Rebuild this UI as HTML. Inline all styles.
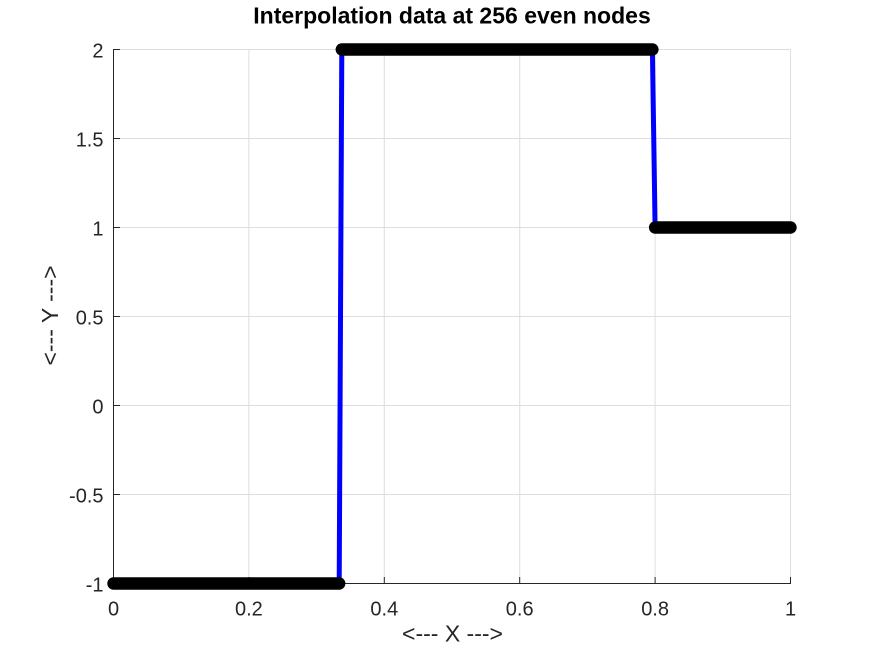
<!DOCTYPE html>
<html>
<head>
<meta charset="utf-8">
<style>
  html, body { margin: 0; padding: 0; background: #ffffff; }
  svg { display: block; }
  text { font-family: "Liberation Sans", "DejaVu Sans", sans-serif; fill: #262626; }
</style>
</head>
<body>
<svg width="873" height="655" viewBox="0 0 873 655" xmlns="http://www.w3.org/2000/svg">
  <rect x="0" y="0" width="873" height="655" fill="#ffffff"/>
  <!-- grid -->
  <g stroke="#dedede" stroke-width="1" fill="none">
    <line x1="248.9" y1="49.5" x2="248.9" y2="583.5"/>
    <line x1="384.3" y1="49.5" x2="384.3" y2="583.5"/>
    <line x1="519.7" y1="49.5" x2="519.7" y2="583.5"/>
    <line x1="655.1" y1="49.5" x2="655.1" y2="583.5"/>
    <line x1="790.5" y1="49.5" x2="790.5" y2="583.5"/>
    <line x1="113.5" y1="49.5" x2="790.5" y2="49.5"/>
    <line x1="113.5" y1="138.5" x2="790.5" y2="138.5"/>
    <line x1="113.5" y1="227.5" x2="790.5" y2="227.5"/>
    <line x1="113.5" y1="316.5" x2="790.5" y2="316.5"/>
    <line x1="113.5" y1="405.5" x2="790.5" y2="405.5"/>
    <line x1="113.5" y1="494.5" x2="790.5" y2="494.5"/>
  </g>
  <!-- axes -->
  <g stroke="#262626" stroke-width="1" fill="none">
    <line x1="113.5" y1="49" x2="113.5" y2="584"/>
    <line x1="113" y1="583.5" x2="791" y2="583.5"/>
    <!-- y ticks -->
    <line x1="113.5" y1="49.5" x2="120" y2="49.5"/>
    <line x1="113.5" y1="138.5" x2="120" y2="138.5"/>
    <line x1="113.5" y1="227.5" x2="120" y2="227.5"/>
    <line x1="113.5" y1="316.5" x2="120" y2="316.5"/>
    <line x1="113.5" y1="405.5" x2="120" y2="405.5"/>
    <line x1="113.5" y1="494.5" x2="120" y2="494.5"/>
    <!-- x ticks -->
    <line x1="248.9" y1="583.5" x2="248.9" y2="577"/>
    <line x1="384.3" y1="583.5" x2="384.3" y2="577"/>
    <line x1="519.7" y1="583.5" x2="519.7" y2="577"/>
    <line x1="655.1" y1="583.5" x2="655.1" y2="577"/>
    <line x1="790.5" y1="583.5" x2="790.5" y2="577"/>
  </g>
  <!-- blue line -->
  <polyline points="113.5,583.5 339.2,583.5 341.8,49.5 652.4,49.5 655.1,227.5 790.5,227.5"
            fill="none" stroke="#0000ff" stroke-width="5" stroke-linejoin="miter"/>
  <!-- black markers (dense) -->
  <g stroke="#000000" stroke-width="12.4" stroke-linecap="round" fill="none">
    <line x1="113.5" y1="583.5" x2="339.2" y2="583.5"/>
    <line x1="341.8" y1="49.5" x2="652.4" y2="49.5"/>
    <line x1="655.1" y1="227.5" x2="790.5" y2="227.5"/>
  </g>
  <!-- y tick labels -->
  <g font-size="20" text-anchor="end">
    <text x="103.5" y="57.5">2</text>
    <text x="103.5" y="146.5">1.5</text>
    <text x="103.5" y="235.5">1</text>
    <text x="103.5" y="324.5">0.5</text>
    <text x="103.5" y="413.5">0</text>
    <text x="103.5" y="502.5">-0.5</text>
    <text x="103.5" y="591.5">-1</text>
  </g>
  <!-- x tick labels -->
  <g font-size="20" text-anchor="middle">
    <text x="113.5" y="615.5">0</text>
    <text x="248.9" y="615.5">0.2</text>
    <text x="384.3" y="615.5">0.4</text>
    <text x="519.7" y="615.5">0.6</text>
    <text x="655.1" y="615.5">0.8</text>
    <text x="790.5" y="615.5">1</text>
  </g>
  <!-- axis labels -->
  <text x="452.5" y="641.5" font-size="23" text-anchor="middle">&lt;--- X ---&gt;</text>
  <text x="0" y="0" font-size="23" text-anchor="middle" transform="translate(58,315.5) rotate(-90)">&lt;--- Y ---&gt;</text>
  <!-- title -->
  <text x="452" y="23.3" font-size="23" font-weight="bold" text-anchor="middle" style="fill:#000000">Interpolation data at 256 even nodes</text>
</svg>
</body>
</html>
